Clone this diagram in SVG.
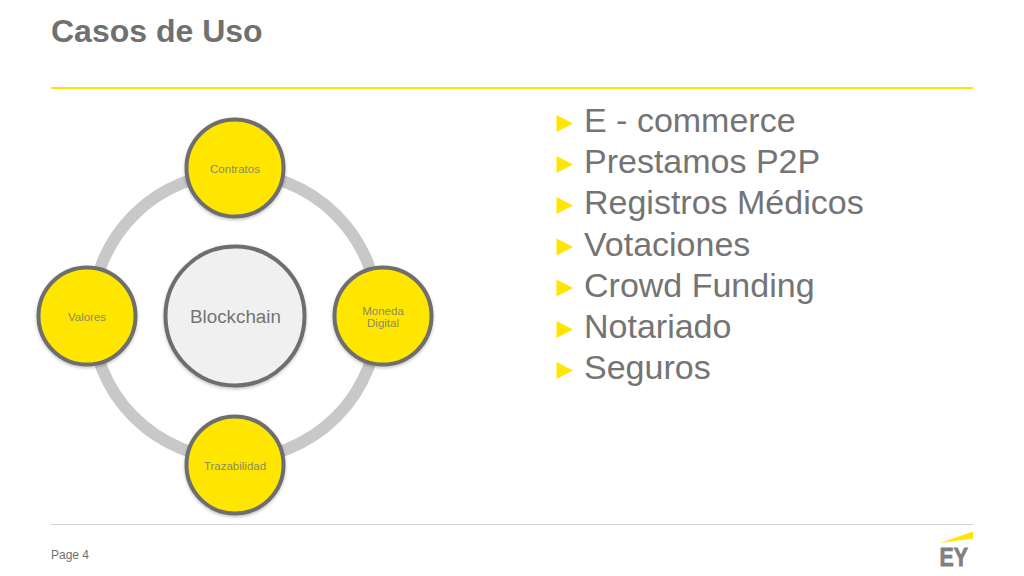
<svg xmlns="http://www.w3.org/2000/svg" width="1024" height="576" viewBox="0 0 1024 576">
<defs>
<filter id="sh" x="-20%" y="-20%" width="140%" height="140%"><feDropShadow dx="0" dy="1.500" stdDeviation="1.500" flood-color="#000" flood-opacity="0.25"/></filter>
<polygon id="bul" points="0,-8.500 16.500,0 0,8.500" fill="#ffe600"/>
</defs>
<style>
text{font-family:"Liberation Sans",Arial,sans-serif;fill:#747480}
.t{font-size:32px;font-weight:bold;fill:#707070}
.li{font-size:34px;fill:#747474}
.n{font-size:11.500px;text-anchor:middle;fill:#8a8a60}
.y{fill:#ffe600;stroke:#6e6e6e;stroke-width:4;filter:url(#sh)}
.c{fill:#f0f0f0;stroke:#6e6e6e;stroke-width:4;filter:url(#sh)}
</style>
<rect width="1024" height="576" fill="#fff"/>
<text class="t" x="51" y="42">Casos de Uso</text>
<line x1="51" y1="88" x2="973" y2="88" stroke="#ffe600" stroke-width="2"/>
<g id="connectors"><circle cx="235" cy="316" r="143" fill="none" stroke="#c8c8c8" stroke-width="12"/></g>
<g id="node-blockchain"><circle class="c" cx="235" cy="316" r="69.500"/><text x="235.500" y="323" font-size="18.800" text-anchor="middle" style="fill:#747474">Blockchain</text></g>
<g id="node-contratos"><circle class="y" cx="235" cy="168" r="48.500"/><text class="n" x="235" y="173">Contratos</text></g>
<g id="node-moneda"><circle class="y" cx="383" cy="316" r="48.500"/><text class="n" x="383" y="315">Moneda</text><text class="n" x="383" y="327">Digital</text></g>
<g id="node-trazabilidad"><circle class="y" cx="235" cy="465" r="48.500"/><text class="n" x="235" y="470">Trazabilidad</text></g>
<g id="node-valores"><circle class="y" cx="87" cy="316" r="48.500"/><text class="n" x="87" y="321">Valores</text></g>
<g id="list">
<use href="#bul" x="556.500" y="123.500"/><text class="li" x="584" y="132">E - commerce</text>
<use href="#bul" x="556.500" y="164.500"/><text class="li" x="584" y="173">Prestamos P2P</text>
<use href="#bul" x="556.500" y="205.500"/><text class="li" x="584" y="214">Registros Médicos</text>
<use href="#bul" x="556.500" y="247"/><text class="li" x="584" y="256">Votaciones</text>
<use href="#bul" x="556.500" y="288"/><text class="li" x="584" y="297">Crowd Funding</text>
<use href="#bul" x="556.500" y="329.500"/><text class="li" x="584" y="338">Notariado</text>
<use href="#bul" x="556.500" y="370.500"/><text class="li" x="584" y="379">Seguros</text>
</g>
<line x1="51" y1="524.500" x2="973" y2="524.500" stroke="#d4d4d4" stroke-width="1"/>
<text x="51" y="559" font-size="12" style="fill:#6f6f6f">Page 4</text>
<g id="logo"><polygon points="940,543 973,531.500 973,538.500" fill="#ffe600"/><text x="939.500" y="566" font-size="26" font-weight="bold" textLength="28.500" lengthAdjust="spacingAndGlyphs" style="fill:#808080;stroke:#808080;stroke-width:0.800">EY</text></g>
</svg>
